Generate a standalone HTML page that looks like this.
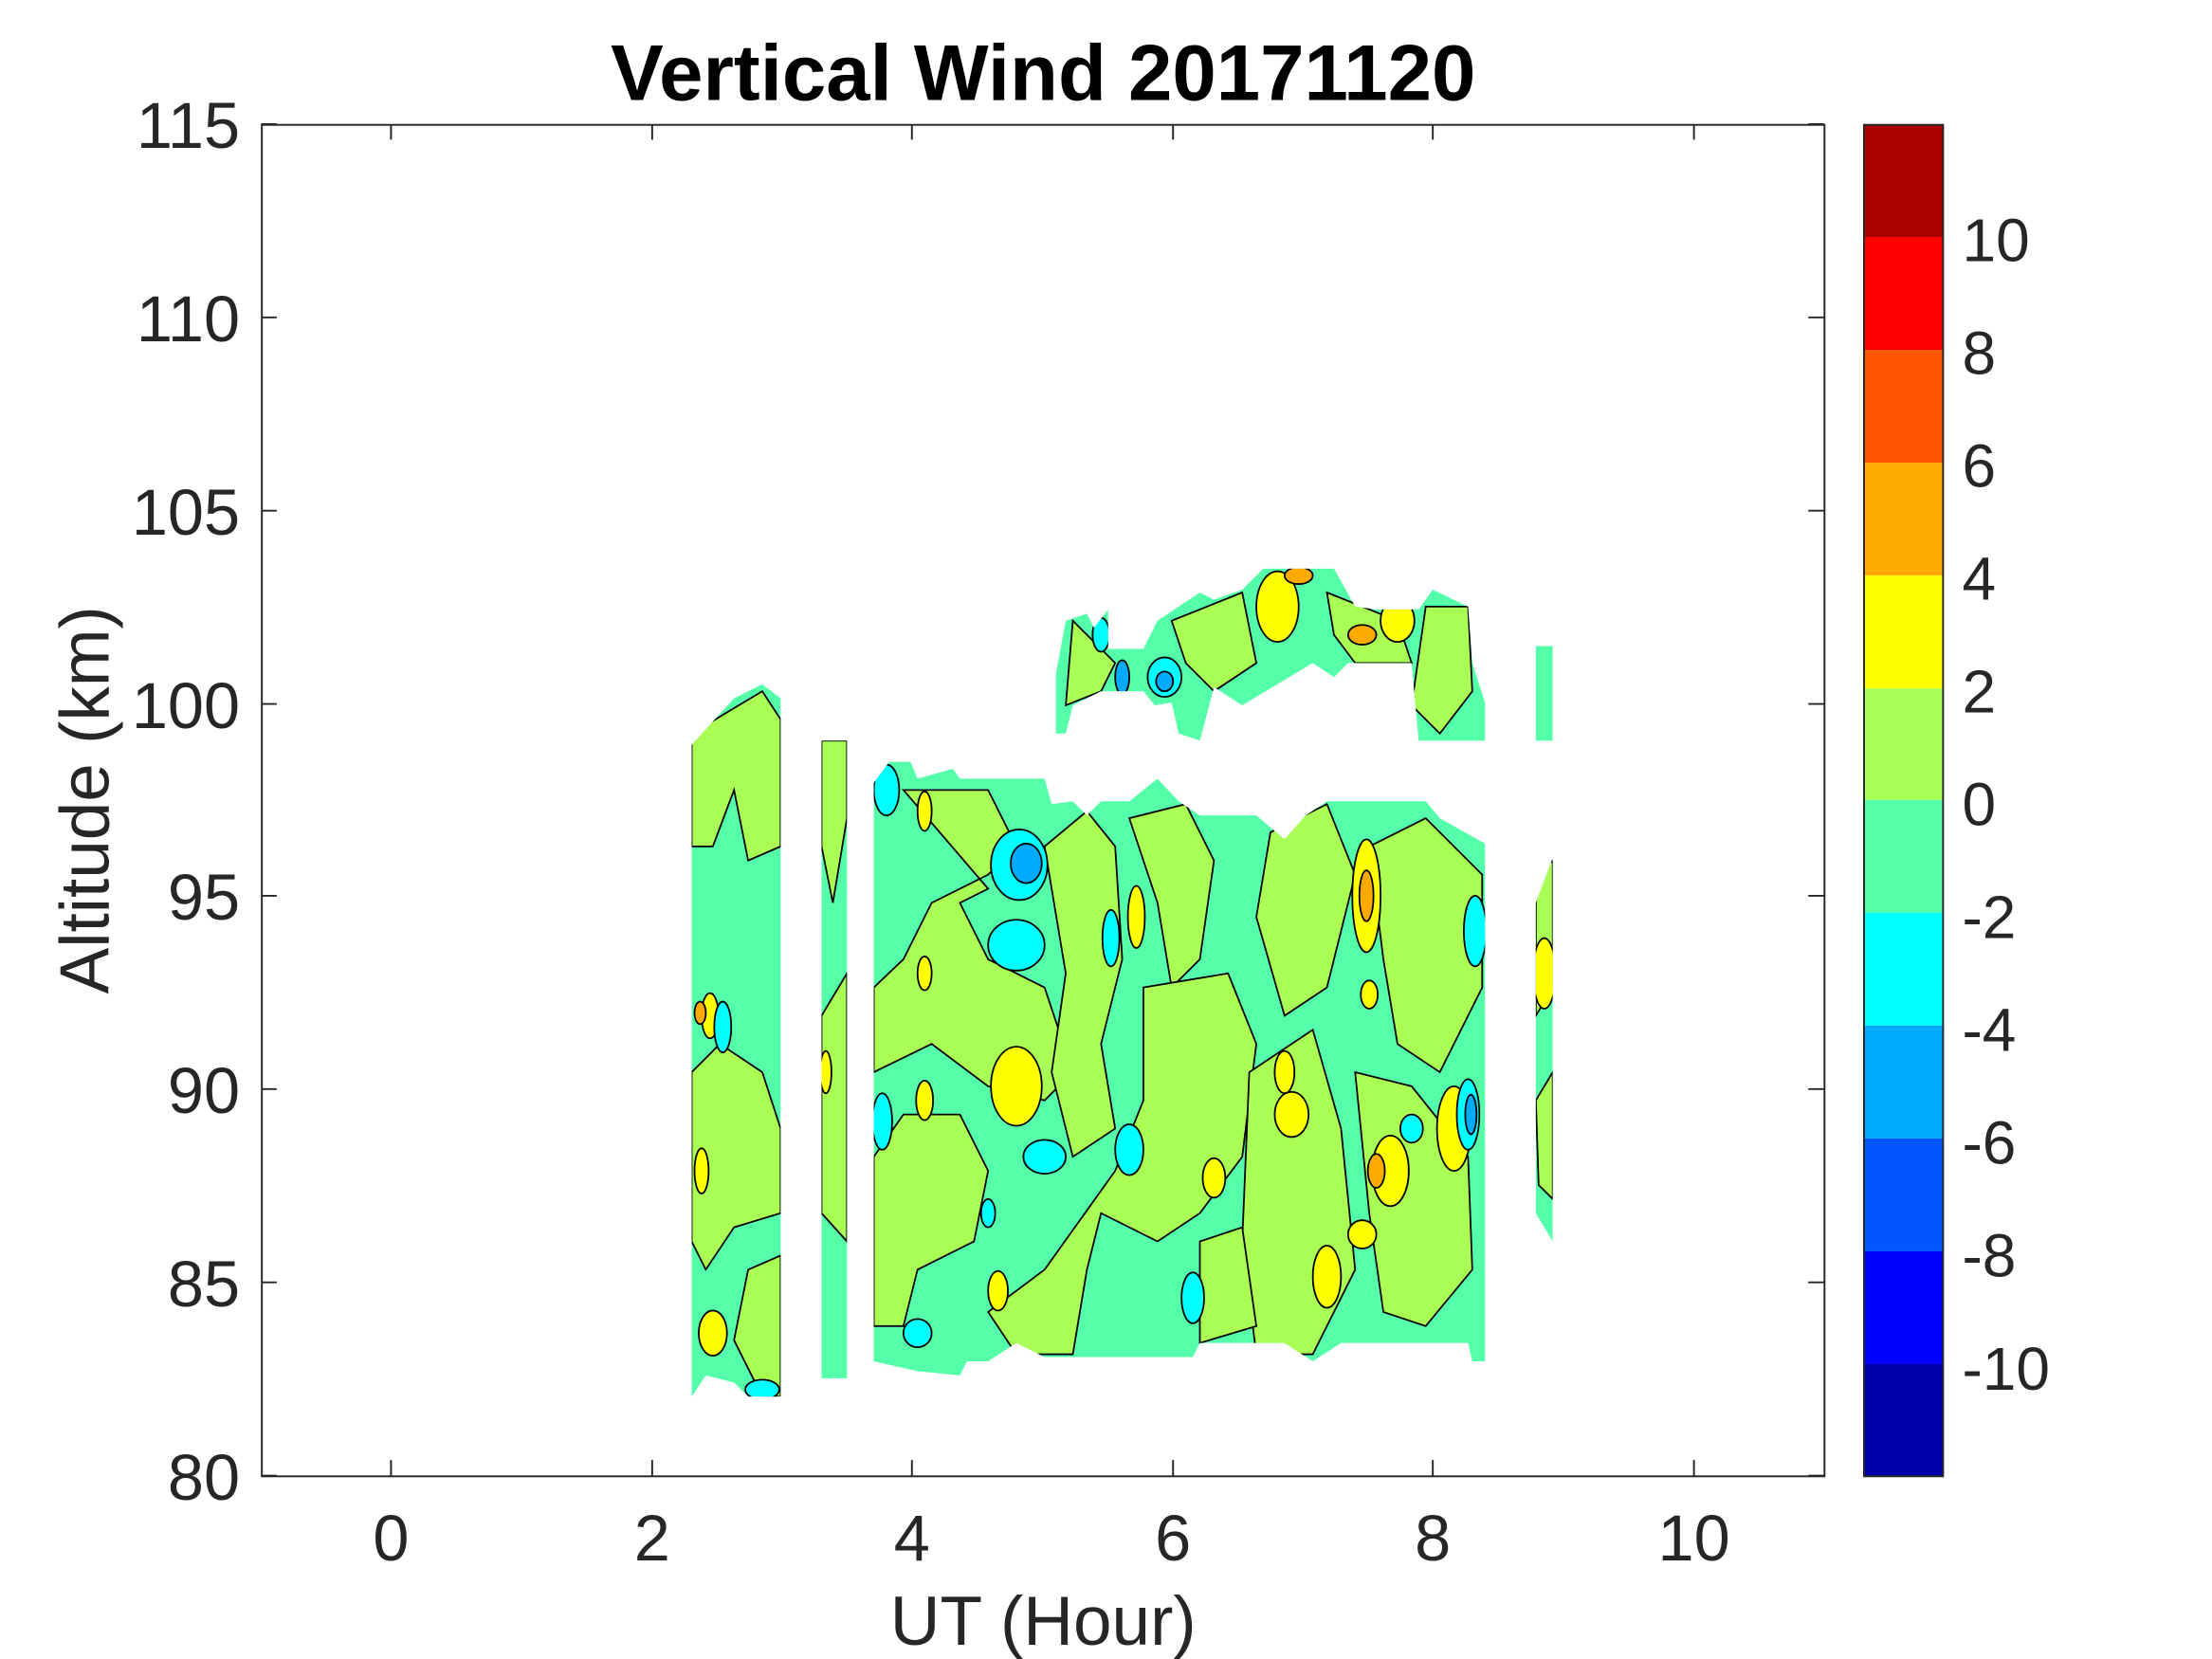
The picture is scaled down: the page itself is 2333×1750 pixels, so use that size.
<!DOCTYPE html>
<html><head><meta charset="utf-8"><style>
html,body{margin:0;padding:0;background:#fff;}
svg{display:block;}
text{font-family:"Liberation Sans",sans-serif;fill:#262626;}
</style></head><body>
<svg width="2333" height="1750" viewBox="0 0 1567 1176" preserveAspectRatio="none" xmlns="http://www.w3.org/2000/svg">
<defs>
<clipPath id="dc">
<polygon points="490,528 520,495 540,485 553,495 553,990 530,990 520,980 500,975 490,990"/>
<rect x="582" y="525" width="18" height="452"/>
<polygon points="619,555 630,540 645,540 650,552 675,545 680,552 740,552 745,570 760,568 770,578 780,568 800,568 820,552 835,568 850,578 890,578 910,595 925,578 940,568 1010,568 1020,580 1052,598 1052,965 1043,965 1040,952 950,952 930,965 910,952 850,952 845,962 740,962 720,952 700,965 685,965 680,975 650,972 619,965"/>
<polygon points="748,478 755,440 770,435 775,445 785,432 785,460 810,460 820,440 835,430 850,420 860,425 880,418 895,403 945,403 960,430 975,432 1005,432 1015,418 1040,430 1043,470 1052,498 1052,525 1005,525 1000,470 980,470 955,470 945,480 930,470 880,500 860,487 850,525 835,520 830,498 818,500 810,490 780,490 760,500 755,520 748,520"/>
<rect x="1088" y="458" width="12" height="67"/>
<polygon points="1088,640 1100,608 1100,880 1094,870 1088,860"/>
</clipPath>
</defs>
<g clip-path="url(#dc)" stroke="#000" stroke-width="1.2">
<rect x="480" y="380" width="630" height="620" fill="#55ffaa" stroke="none"/>
<g fill="#aaff55">
<path d="M490,520 L540,490 L553,510 L553,600 L530,610 L520,560 L505,600 L490,600Z"/>
<path d="M490,760 L510,740 L540,760 L553,800 L553,860 L520,870 L500,900 L490,880Z"/>
<path d="M530,900 L553,890 L553,990 L540,990 L520,950Z"/>
<path d="M582,525 L600,525 L600,580 L590,640 L582,600Z"/>
<path d="M582,720 L600,690 L600,880 L582,860Z"/>
<path d="M640,560 L700,560 L720,600 L700,620 L660,640 L640,680 L619,700 L619,760 L660,740 L700,770 L740,780 L760,760 L740,700 L700,680 L680,640 L700,630 Z"/>
<path d="M619,820 L640,790 L680,790 L700,830 L690,880 L650,900 L640,940 L619,940Z"/>
<path d="M740,600 L770,575 L790,600 L795,680 L780,740 L790,800 L760,820 L745,760 L755,690Z"/>
<path d="M800,580 L840,570 L860,610 L850,680 L830,700 L820,640Z"/>
<path d="M810,700 L870,690 L890,740 L880,820 L850,860 L820,880 L780,860 L770,900 L760,960 L720,960 L700,930 L740,900 L790,830 L810,780Z"/>
<path d="M900,590 L940,570 L960,620 L940,700 L910,720 L890,650Z"/>
<path d="M885,760 L930,730 L950,800 L960,900 L930,960 L890,960 L880,880 Z"/>
<path d="M970,600 L1010,580 L1050,620 L1050,700 L1020,760 L990,740 L980,680Z"/>
<path d="M960,760 L1000,770 L1040,820 L1043,900 L1010,940 L980,930 L970,860Z"/>
<path d="M850,880 L880,870 L890,940 L850,952Z"/>
<path d="M760,440 L790,470 L780,490 L755,500Z"/>
<path d="M830,440 L880,420 L890,470 L860,490 L840,470Z"/>
<path d="M940,420 L990,440 L1000,470 L960,470 L945,450Z"/>
<path d="M1010,430 L1040,430 L1043,490 L1020,520 L1000,500Z"/>
<path d="M1088,620 L1100,610 L1100,700 L1088,720Z"/>
<path d="M1088,780 L1100,760 L1100,850 L1090,840Z"/>
</g>
<g fill="#ffff00">
<ellipse cx="720" cy="770" rx="18" ry="28"/>
<ellipse cx="503" cy="720" rx="6" ry="16"/>
<ellipse cx="497" cy="830" rx="5" ry="16"/>
<ellipse cx="505" cy="945" rx="10" ry="16"/>
<ellipse cx="805" cy="650" rx="6" ry="22"/>
<ellipse cx="915" cy="790" rx="12" ry="16"/>
<ellipse cx="910" cy="760" rx="7" ry="15"/>
<ellipse cx="860" cy="835" rx="8" ry="14"/>
<ellipse cx="940" cy="905" rx="10" ry="22"/>
<ellipse cx="985" cy="830" rx="13" ry="25"/>
<ellipse cx="1030" cy="800" rx="12" ry="30"/>
<ellipse cx="968" cy="635" rx="10" ry="40"/>
<ellipse cx="965" cy="875" rx="10" ry="10"/>
<ellipse cx="707" cy="915" rx="7" ry="14"/>
<ellipse cx="655" cy="780" rx="6" ry="14"/>
<ellipse cx="655" cy="690" rx="5" ry="12"/>
<ellipse cx="655" cy="575" rx="5" ry="14"/>
<ellipse cx="905" cy="430" rx="15" ry="25"/>
<ellipse cx="990" cy="440" rx="12" ry="15"/>
<ellipse cx="1094" cy="690" rx="8" ry="25"/>
<ellipse cx="585" cy="760" rx="4" ry="15"/>
<ellipse cx="970" cy="705" rx="6" ry="10"/>
</g>
<g fill="#ffaa00">
<ellipse cx="968" cy="635" rx="5" ry="18"/>
<ellipse cx="975" cy="830" rx="6" ry="12"/>
<ellipse cx="920" cy="408" rx="10" ry="6"/>
<ellipse cx="965" cy="450" rx="10" ry="7"/>
<ellipse cx="496" cy="718" rx="4" ry="8"/>
</g>
<g fill="#00ffff">
<ellipse cx="722" cy="613" rx="20" ry="25"/>
<ellipse cx="720" cy="670" rx="20" ry="18"/>
<ellipse cx="787" cy="665" rx="6" ry="20"/>
<ellipse cx="740" cy="820" rx="15" ry="12"/>
<ellipse cx="800" cy="815" rx="10" ry="18"/>
<ellipse cx="845" cy="920" rx="8" ry="18"/>
<ellipse cx="625" cy="795" rx="7" ry="20"/>
<ellipse cx="650" cy="945" rx="10" ry="10"/>
<ellipse cx="512" cy="728" rx="6" ry="18"/>
<ellipse cx="628" cy="560" rx="9" ry="18"/>
<ellipse cx="1045" cy="660" rx="8" ry="25"/>
<ellipse cx="1040" cy="790" rx="8" ry="25"/>
<ellipse cx="825" cy="480" rx="12" ry="14"/>
<ellipse cx="780" cy="450" rx="6" ry="12"/>
<ellipse cx="540" cy="985" rx="12" ry="7"/>
<ellipse cx="1000" cy="800" rx="8" ry="10"/>
<ellipse cx="700" cy="860" rx="5" ry="10"/>
</g>
<g fill="#00aaff">
<ellipse cx="727" cy="612" rx="11" ry="14"/>
<ellipse cx="825" cy="483" rx="6" ry="7"/>
<ellipse cx="795" cy="480" rx="5" ry="12"/>
<ellipse cx="1042" cy="790" rx="4" ry="14"/>
</g>
</g>
<rect x="185.5" y="88.5" width="1107" height="958" fill="none" stroke="#262626" stroke-width="1.3"/>
<g stroke="#262626" stroke-width="1.3">
<path d="M277,1046v-11M277,88v11M462,1046v-11M462,88v11M646,1046v-11M646,88v11M831,1046v-11M831,88v11M1015,1046v-11M1015,88v11M1200,1046v-11M1200,88v11"/>
<path d="M185,1046h11M1292,1046h-11M185,909h11M1292,909h-11M185,772h11M1292,772h-11M185,635h11M1292,635h-11M185,499h11M1292,499h-11M185,362h11M1292,362h-11M185,225h11M1292,225h-11M185,88h11M1292,88h-11"/>
</g>
<g font-size="46" text-anchor="end">
<text x="170" y="1063">80</text><text x="170" y="926">85</text><text x="170" y="789">90</text><text x="170" y="652">95</text><text x="170" y="516">100</text><text x="170" y="379">105</text><text x="170" y="242">110</text><text x="170" y="105">115</text>
</g>
<g font-size="46" text-anchor="middle">
<text x="277" y="1106">0</text><text x="462" y="1106">2</text><text x="646" y="1106">4</text><text x="831" y="1106">6</text><text x="1015" y="1106">8</text><text x="1200" y="1106">10</text>
</g>
<text x="739" y="1166" font-size="49" text-anchor="middle">UT (Hour)</text>
<text transform="translate(77,567) rotate(-90)" font-size="49" text-anchor="middle">Altitude (km)</text>
<text x="739" y="71" font-size="56" font-weight="bold" text-anchor="middle" style="fill:#000">Vertical Wind 20171120</text>
<g>
<rect x="1320" y="88" width="56" height="80" fill="#aa0000"/>
<rect x="1320" y="168" width="56" height="80" fill="#ff0000"/>
<rect x="1320" y="248" width="56" height="80" fill="#ff5500"/>
<rect x="1320" y="328" width="56" height="80" fill="#ffaa00"/>
<rect x="1320" y="408" width="56" height="80" fill="#ffff00"/>
<rect x="1320" y="488" width="56" height="79" fill="#aaff55"/>
<rect x="1320" y="567" width="56" height="80" fill="#55ffaa"/>
<rect x="1320" y="647" width="56" height="80" fill="#00ffff"/>
<rect x="1320" y="727" width="56" height="80" fill="#00aaff"/>
<rect x="1320" y="807" width="56" height="80" fill="#0055ff"/>
<rect x="1320" y="887" width="56" height="80" fill="#0000ff"/>
<rect x="1320" y="967" width="56" height="79" fill="#0000aa"/>
<rect x="1320.5" y="88.5" width="56" height="958" fill="none" stroke="#262626" stroke-width="1.3"/>
</g>
<g font-size="43">
<text x="1390" y="185">10</text><text x="1390" y="265">8</text><text x="1390" y="345">6</text><text x="1390" y="425">4</text><text x="1390" y="505">2</text><text x="1390" y="585">0</text><text x="1390" y="665">-2</text><text x="1390" y="745">-4</text><text x="1390" y="825">-6</text><text x="1390" y="905">-8</text><text x="1390" y="985">-10</text>
</g>
</svg>
</body></html>
